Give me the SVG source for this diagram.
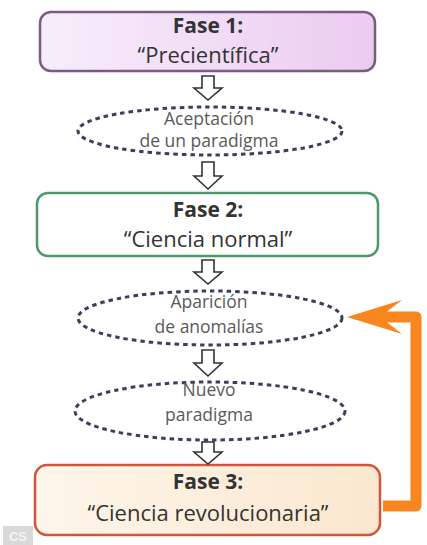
<svg xmlns="http://www.w3.org/2000/svg" width="427" height="545" viewBox="0 0 427 545">
<defs>
<linearGradient id="g1" x1="0" y1="0" x2="1" y2="0">
<stop offset="0" stop-color="#f7eefa"/><stop offset="1" stop-color="#eccbf1"/>
</linearGradient>
<linearGradient id="g3" x1="0" y1="0" x2="1" y2="0">
<stop offset="0" stop-color="#fdf6ea"/><stop offset="1" stop-color="#fbe7cf"/>
</linearGradient>
<style>
.box{stroke-width:2.5}
.ell{fill:none;stroke:#3b3f5c;stroke-width:3;stroke-dasharray:4.5 4}
.t{font-family:"Open Sans","Liberation Sans",sans-serif;text-anchor:middle;fill:#333}
.h{font-weight:bold;font-size:21px}
.s{font-size:22px}
.e{font-size:17.5px;fill:#5a5a5a}
.arr{fill:#fff;stroke:#333;stroke-width:1.6;stroke-linejoin:miter}
</style>
</defs>
<rect width="427" height="545" fill="#fff"/>
<g id="fase1">
<rect class="box" x="40" y="12" width="335" height="59" rx="11" fill="url(#g1)" stroke="#7d5a86"/>
<text class="t h" x="208" y="33">Fase 1:</text>
<text class="t s" x="208" y="63">“Precientífica”</text>
</g>
<g id="aceptacion">
<ellipse class="ell" cx="210" cy="131" rx="132" ry="24"/>
<text class="t e" x="209" y="125">Aceptación</text>
<text class="t e" x="209" y="147">de un paradigma</text>
</g>
<g id="fase2">
<rect class="box" x="37" y="193" width="341" height="63" rx="11" fill="#fff" stroke="#4c9a6b"/>
<text class="t h" x="208" y="217">Fase 2:</text>
<text class="t s" x="208" y="247">“Ciencia normal”</text>
</g>
<g id="anomalias">
<ellipse class="ell" cx="210" cy="318" rx="132" ry="27"/>
<text class="t e" x="209" y="308">Aparición</text>
<text class="t e" x="209" y="333">de anomalías</text>
</g>
<g id="nuevo">
<ellipse class="ell" cx="210" cy="411" rx="135" ry="29"/>
<text class="t e" x="209" y="396">Nuevo</text>
<text class="t e" x="209" y="421">paradigma</text>
</g>
<g id="fase3">
<rect class="box" x="35" y="465" width="345" height="70" rx="12" fill="url(#g3)" stroke="#d0553c"/>
<text class="t h" x="208" y="489">Fase 3:</text>
<text class="t s" x="208" y="521">“Ciencia revolucionaria”</text>
</g>
<g id="connectors">
<path class="arr" d="M202 76 H214 V88 H222 L208 100 L194 88 H202 Z"/>
<path class="arr" d="M202 162 H214 V176 H222 L208 189 L194 176 H202 Z"/>
<path class="arr" d="M202 260 H214 V272 H222 L208 284 L194 272 H202 Z"/>
<path class="arr" d="M202 350 H214 V363 H222 L208 376 L194 363 H202 Z"/>
<path class="arr" d="M202 442 H214 V452 H222 L208 464 L194 452 H202 Z"/>
<path d="M383 506 H416 V317 H380" fill="none" stroke="#f7861e" stroke-width="11" stroke-linejoin="round"/>
<polygon points="347,317 402,300 384,314 384,320 402,334" fill="#f7861e"/>
</g>
<g id="watermark">
<rect x="3" y="526" width="30" height="19" fill="#d9d9d9"/>
<text x="18" y="541" font-family="Liberation Sans, sans-serif" font-size="13" font-weight="bold" fill="#f4f4f4" text-anchor="middle">CS</text>
</g>
</svg>
